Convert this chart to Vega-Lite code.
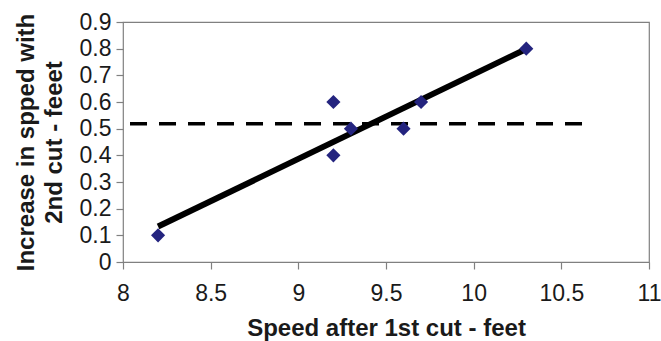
{
  "$schema": "https://vega.github.io/schema/vega-lite/v6.json",
  "width": 526,
  "height": 240,
  "autosize": {"type": "none"},
  "padding": {"left": 123, "top": 22, "right": 12, "bottom": 79},
  "background": "white",
  "config": {
    "view": {"stroke": "#808080", "strokeWidth": 1.2},
    "font": "Liberation Sans",
    "axis": {
      "grid": false,
      "domain": false,
      "tickColor": "#808080",
      "tickWidth": 1.2,
      "tickSize": 7,
      "labelFont": "Liberation Sans",
      "labelFontSize": 23,
      "labelColor": "#1a1a1a",
      "labelOverlap": false,
      "labelFlush": false,
      "titleFont": "Liberation Sans",
      "titleFontSize": 24,
      "titleFontWeight": "bold",
      "titleColor": "#1a1a1a"
    }
  },
  "datasets": {
    "points": [
      {"speed": 8.2, "increase": 0.1},
      {"speed": 9.2, "increase": 0.6},
      {"speed": 9.2, "increase": 0.4},
      {"speed": 9.3, "increase": 0.5},
      {"speed": 9.6, "increase": 0.5},
      {"speed": 9.7, "increase": 0.6},
      {"speed": 10.3, "increase": 0.8}
    ],
    "trend": [
      {"speed": 8.2, "increase": 0.133},
      {"speed": 10.3, "increase": 0.799}
    ],
    "mean": [
      {"speed": 8.04, "increase": 0.518},
      {"speed": 10.66, "increase": 0.518}
    ]
  },
  "encoding": {
    "x": {
      "field": "speed",
      "type": "quantitative",
      "scale": {"domain": [8, 11], "nice": false, "zero": false},
      "axis": {
        "values": [8, 8.5, 9, 9.5, 10, 10.5, 11],
        "format": "~g",
        "labelPadding": 13,
        "title": "Speed after 1st cut - feet",
        "titlePadding": 11
      }
    },
    "y": {
      "field": "increase",
      "type": "quantitative",
      "scale": {"domain": [0, 0.9], "nice": false},
      "axis": {
        "values": [0, 0.1, 0.2, 0.3, 0.4, 0.5, 0.6, 0.7, 0.8, 0.9],
        "format": "~g",
        "labelPadding": 5,
        "title": ["Increase in spped with", "2nd cut - feeet"],
        "titlePadding": 13,
        "titleLineHeight": 28
      }
    }
  },
  "layer": [
    {
      "data": {"name": "mean"},
      "mark": {"type": "line", "color": "black", "strokeWidth": 3.5, "strokeDash": [17, 12], "strokeCap": "butt"},
      "encoding": {}
    },
    {
      "data": {"name": "trend"},
      "mark": {"type": "line", "color": "black", "strokeWidth": 6, "strokeCap": "butt"},
      "encoding": {}
    },
    {
      "data": {"name": "points"},
      "mark": {"type": "point", "shape": "diamond", "filled": true, "color": "#24247f", "opacity": 1, "size": 200},
      "encoding": {}
    }
  ]
}
